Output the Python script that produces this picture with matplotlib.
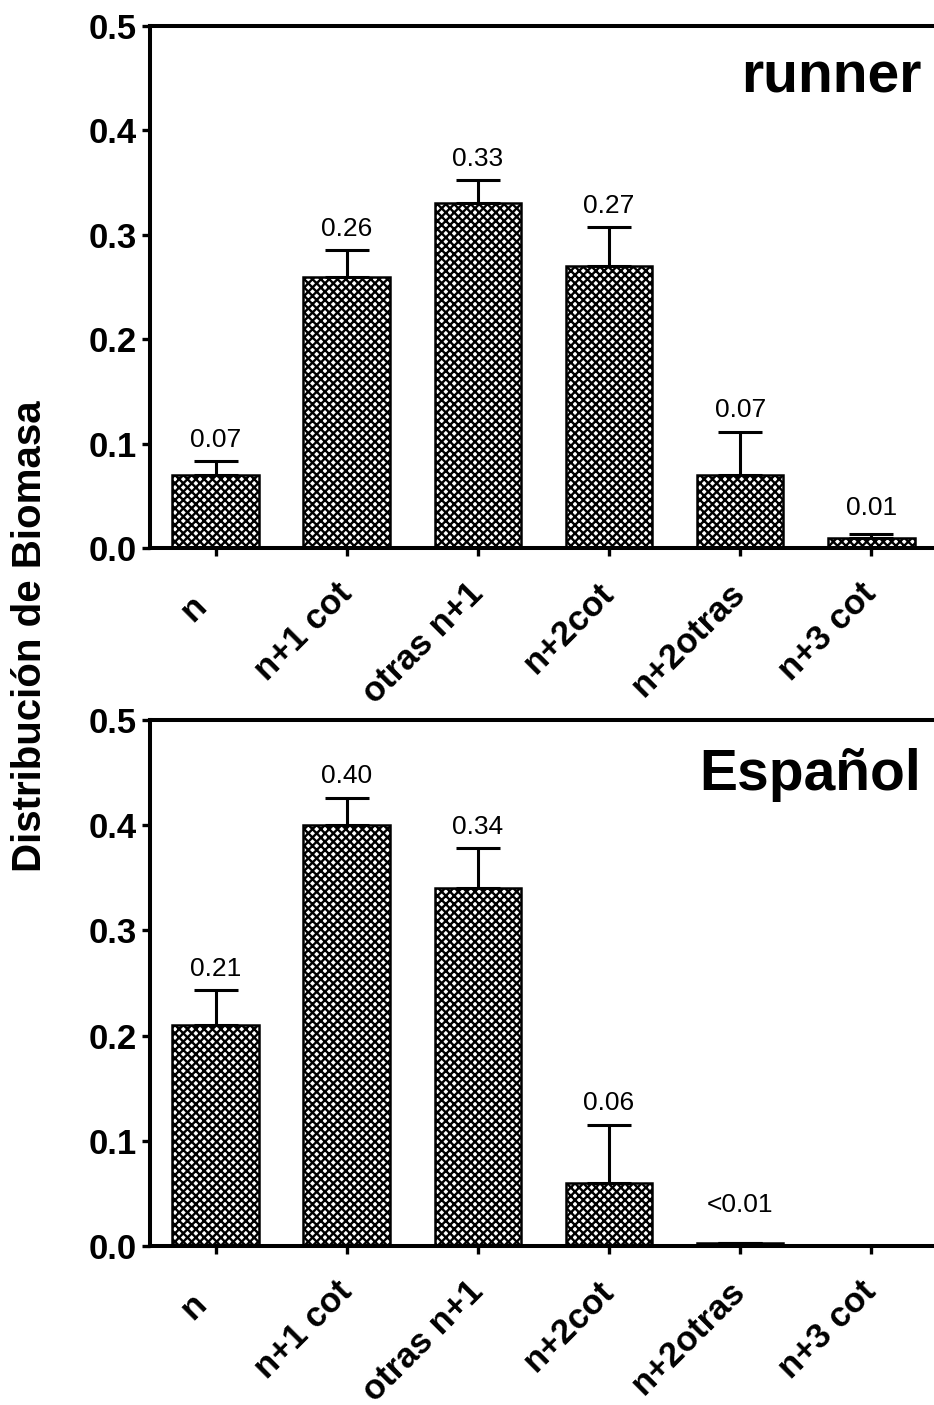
import numpy as np
import matplotlib
matplotlib.use("Agg")
import matplotlib.pyplot as plt

plt.rcParams["font.family"] = ["Liberation Sans", "DejaVu Sans"]
plt.rcParams["hatch.linewidth"] = 1.7
plt.rcParams["hatch.color"] = "black"

categories = ["n", "n+1 cot", "otras n+1", "n+2cot", "n+2otras", "n+3 cot"]

runner_values = [0.07, 0.26, 0.33, 0.27, 0.07, 0.01]
runner_errors = [0.013, 0.025, 0.022, 0.037, 0.041, 0.003]
runner_labels = ["0.07", "0.26", "0.33", "0.27", "0.07", "0.01"]

espanol_values = [0.21, 0.40, 0.34, 0.06, 0.003, 0.0]
espanol_errors = [0.033, 0.026, 0.038, 0.055, 0.0, 0.0]
espanol_labels = ["0.21", "0.40", "0.34", "0.06", "<0.01", ""]

yticks = [0.0, 0.1, 0.2, 0.3, 0.4, 0.5]

fig = plt.figure(figsize=(9.34, 14.05), dpi=100)
ax_top = fig.add_axes([0.1606, 0.6100, 0.8425, 0.3715])
ax_bot = fig.add_axes([0.1606, 0.1132, 0.8425, 0.3744])


def draw_panel(ax, values, errors, labels, title, title_y):
    x = np.arange(len(categories))
    lower = np.zeros(len(values))
    ax.bar(x, values, width=0.66, color="white", edgecolor="black",
           linewidth=1.8, hatch="xxxx", zorder=2)
    ax.errorbar(x, values, yerr=[lower, errors], fmt="none", ecolor="black",
                elinewidth=2.2, capsize=16, capthick=2.2, zorder=3)
    for xi, v, e, lab in zip(x, values, errors, labels):
        if not lab:
            continue
        y = max(v + e + 0.014, 0.032)
        ax.text(xi, y, lab, ha="center", va="baseline", fontsize=19)
    ax.set_xlim(-0.5, 5.5)
    ax.set_ylim(0, 0.5)
    ax.set_yticks(yticks)
    ax.set_yticklabels([f"{t:.1f}" for t in yticks], fontsize=25, fontweight="bold")
    ax.set_xticks(x)
    # short single-letter label sits a little further out along its slant
    tick_text = [c + "  " if len(c) == 1 else c for c in categories]
    ax.set_xticklabels(tick_text, fontsize=25, fontweight="bold", rotation=45,
                       ha="right", va="center", rotation_mode="anchor")
    ax.tick_params(axis="both", direction="out", length=6, width=2.4)
    ax.tick_params(axis="y", pad=3.5)
    ax.tick_params(axis="x", pad=23)
    for side in ("left", "bottom", "top"):
        ax.spines[side].set_linewidth(2.9)
    ax.spines["right"].set_visible(False)
    ax.text(5.38, title_y, title, ha="right", va="baseline", fontsize=41,
            fontweight="bold")


draw_panel(ax_top, runner_values, runner_errors, runner_labels, "runner", 0.436)
draw_panel(ax_bot, espanol_values, espanol_errors, espanol_labels, "Español", 0.433)

fig.text(30 / 934, 1 - 636 / 1405, "Distribución de Biomasa", rotation=90,
         ha="center", va="center", fontsize=29, fontweight="bold")

fig.savefig("out.png", dpi=100, facecolor="white")
